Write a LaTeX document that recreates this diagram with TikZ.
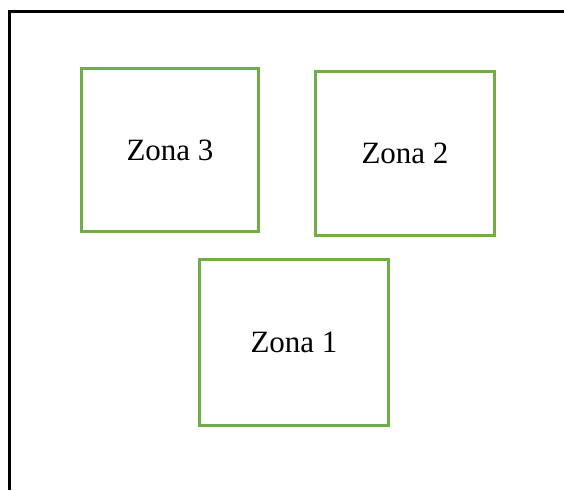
\documentclass[tikz,border=0pt]{standalone}
\usepackage{fontspec}
\setmainfont{Liberation Serif}
\definecolor{zgreen}{HTML}{70AD47}
\begin{document}
\begin{tikzpicture}[x=1pt,y=-1pt,
  zone/.style={draw=zgreen, line width=2.6pt, inner sep=0pt, font=\fontsize{31}{36}\selectfont},
  frame/.style={draw=black, line width=3pt}]
\useasboundingbox (0,0) rectangle (564,490);
\node[zone, minimum width=177pt, minimum height=163pt] (z3) at (170,150) {Zona 3};
\node[zone, minimum width=179pt, minimum height=164pt] (z2) at (405,153.5) {Zona 2};
\node[zone, minimum width=189pt, minimum height=166pt] (z1) at (294,342.5) {Zona 1};
\draw[frame] (564,11) -- (9,11) -- (9,490);
\end{tikzpicture}
\end{document}
